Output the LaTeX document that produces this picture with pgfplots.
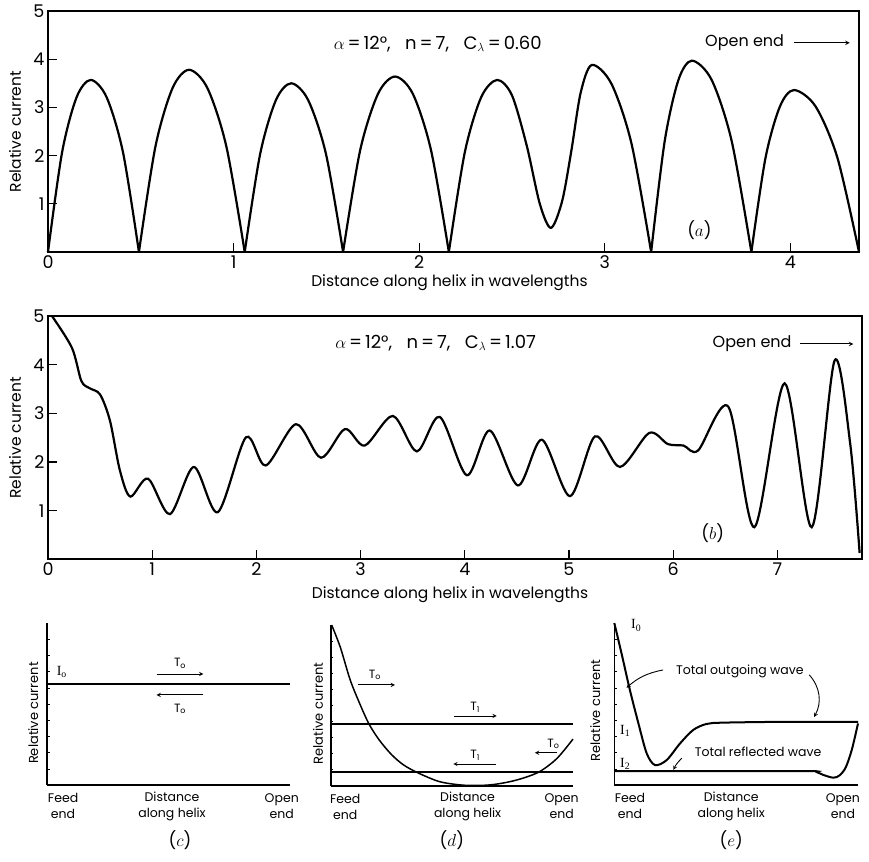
\documentclass[border=0pt]{standalone}
\usepackage{fontspec}
\setmainfont{Poppins}
\newfontfamily\serif{Liberation Serif}
\usepackage{pgfplots}
\pgfplotsset{compat=1.18}
\newcommand\lab{\fontsize{15.5}{16}\selectfont}
\newcommand\slab{\fontsize{12}{12}\selectfont}
\newcommand\ylab{\fontsize{13}{13}\selectfont}
\begin{document}
\begin{tikzpicture}
\useasboundingbox (0pt,0pt) rectangle (869pt,861pt);
\pgfplotsset{
 cur/.style={black, line width=2.2pt, solid, no marks, smooth},
 thin cur/.style={black, line width=1.5pt, solid, no marks, smooth},
 big/.style={scale only axis, anchor=south west, clip=false,
   axis line style={line width=1.6pt}, tick style={line width=1.2pt, black},
   tick align=inside, major tick length=9pt, xtick pos=bottom, ytick pos=left,
   ymin=0, ymax=5, ytick={1,2,3,4,5},
   ticklabel style={font=\fontsize{17.5}{17.5}\selectfont},
   /pgf/number format/assume math mode=true},
 small/.style={scale only axis, anchor=south west, clip=false,
   axis x line=bottom, axis y line=left, axis line style={line width=1.6pt, -},
   xmin=0, xmax=1, ymin=0, ymax=1, xtick=\empty,
   ytick={0.1,0.2,0.3,0.4,0.5,0.6,0.7,0.8,0.9}, yticklabels={},
   tick style={line width=0.5pt, black}, major tick length=2.5pt, tick align=inside},
}
% ---------------- (a)
\begin{axis}[big, at={(48pt,609pt)}, width=811pt, height=241pt,
  xmin=0, xmax=4.37, xtick={0,1,2,3,4}]
\addplot[cur] coordinates {(0,0)(0.076,2.07)(0.154,3.21)(0.23,3.57)(0.316,3.21)(0.404,2.07)(0.49,0)};
\addplot[cur] coordinates {(0.49,0)(0.579,2.19)(0.671,3.40)(0.76,3.78)(0.859,3.40)(0.961,2.19)(1.06,0)};
\addplot[cur] coordinates {(1.06,0)(1.143,2.03)(1.228,3.15)(1.31,3.5)(1.402,3.15)(1.498,2.03)(1.59,0)};
\addplot[cur] coordinates {(1.59,0)(1.682,2.11)(1.778,3.28)(1.87,3.64)(1.966,3.28)(2.064,2.11)(2.16,0)};
\addplot[cur] coordinates {(2.16,0)(2.246,2.07)(2.334,3.21)(2.42,3.57)(2.50,3.25)(2.58,2.2)(2.65,1.0)(2.71,0.5)(2.77,1.05)(2.82,2.1)(2.87,3.3)(2.93,3.88)(3.036,3.49)(3.144,2.25)(3.25,0)};
\addplot[cur] coordinates {(3.25,0)(3.323,2.30)(3.397,3.57)(3.47,3.97)(3.576,3.57)(3.684,2.30)(3.79,0)};
\addplot[cur] coordinates {(3.79,0)(3.866,1.95)(3.944,3.02)(4.02,3.36)(4.136,3.02)(4.254,1.95)(4.37,0)};
\node[font=\fontsize{18}{18}\selectfont] at (axis cs:2.1,4.32) {$\alpha$\,=\,12°,\ \ \ n\,=\,7,\ \ \ C$_\lambda$\,=\,0.60};
\node[anchor=east, font=\fontsize{16}{16}\selectfont] at (axis cs:3.985,4.34) {Open end};
\draw[-stealth, line width=1pt] (axis cs:4.02,4.34) -- (axis cs:4.32,4.34);
\node[font=\fontsize{17}{17}\selectfont] at (axis cs:3.51,0.45) {($a$)};
\node[rotate=90, font=\lab] at (axis description cs:-0.0407,0.5) {Relative current};
\node[font=\lab] at (axis description cs:0.495,-0.128) {Distance along helix in wavelengths};
\end{axis}
% ---------------- (b)
\begin{axis}[big, at={(48pt,301.7pt)}, width=813.7pt, height=243pt,
  xmin=0, xmax=7.81, xtick={0,1,2,3,4,5,6,7}]
\addplot[cur] coordinates {(0.04,5.0)(0.23,4.35)(0.32,3.67)(0.40,3.52)(0.50,3.39)(0.595,2.85)(0.69,1.83)(0.79,1.29)
 (0.96,1.66)(1.17,0.93)(1.40,1.90)(1.63,0.97)(1.90,2.51)(2.09,1.93)(2.38,2.78)(2.62,2.09)(2.85,2.68)(3.04,2.34)
 (3.31,2.95)(3.54,2.22)(3.76,2.93)(4.02,1.73)(4.24,2.65)(4.51,1.52)(4.74,2.46)(5.01,1.30)(5.25,2.53)(5.49,1.90)
 (5.77,2.60)(5.95,2.37)(6.10,2.34)(6.24,2.24)(6.53,3.14)(6.78,0.66)(7.07,3.62)(7.33,0.66)(7.55,4.09)(7.70,2.37)(7.79,0.13)};
\node[font=\fontsize{18}{18}\selectfont] at (axis cs:3.72,4.45) {$\alpha$\,=\,12°,\ \ \ n\,=\,7,\ \ \ C$_\lambda$\,=\,1.07};
\node[anchor=east, font=\fontsize{16}{16}\selectfont] at (axis cs:7.17,4.43) {Open end};
\draw[-stealth, line width=1pt] (axis cs:7.22,4.43) -- (axis cs:7.73,4.43);
\node[font=\fontsize{17}{17}\selectfont] at (axis cs:6.38,0.53) {($b$)};
\node[rotate=90, font=\lab] at (axis description cs:-0.0406,0.5) {Relative current};
\node[font=\lab] at (axis description cs:0.494,-0.147) {Distance along helix in wavelengths};
\end{axis}
% ---------------- (c)
\begin{axis}[small, at={(47.3pt,76pt)}, width=242.7pt, height=162pt]
\addplot[cur, line width=2pt] coordinates {(0,0.623)(1,0.623)};
\node[font=\serif\fontsize{14}{14}\selectfont] at (axis cs:0.06,0.70) {I\textsubscript{o}};
\draw[-stealth, line width=0.9pt] (axis cs:0.45,0.685) -- (axis cs:0.643,0.685);
\node[font=\slab] at (axis cs:0.547,0.75) {T\textsubscript{o}};
\draw[-stealth, line width=0.9pt] (axis cs:0.643,0.556) -- (axis cs:0.45,0.556);
\node[font=\slab] at (axis cs:0.547,0.47) {T\textsubscript{o}};
\node[rotate=90, font=\ylab] at (axis description cs:-0.058,0.444) {Relative current};
\node[align=center, font=\fontsize{12.5}{16}\selectfont] at (axis cs:0.065,-0.13) {Feed\\end};
\node[align=center, font=\fontsize{12.5}{16}\selectfont] at (axis cs:0.514,-0.13) {Distance\\along helix};
\node[align=center, font=\fontsize{12.5}{16}\selectfont] at (axis cs:0.966,-0.13) {Open\\end};
\node[font=\fontsize{17}{17}\selectfont] at (axis cs:0.547,-0.34) {($c$)};
\end{axis}
% ---------------- (d)
\begin{axis}[small, at={(330.7pt,75.3pt)}, width=242.3pt, height=160.7pt]
\addplot[cur, line width=2pt] coordinates {(0,0.384)(1,0.384)};
\addplot[cur, line width=2pt] coordinates {(0,0.087)(1,0.087)};
\addplot[thin cur] coordinates {(0.004,1.0)(0.04,0.86)(0.08,0.66)(0.12,0.51)(0.158,0.384)(0.20,0.285)(0.25,0.195)
 (0.30,0.13)(0.36,0.08)(0.45,0.025)(0.55,0.003)(0.65,0.004)(0.73,0.022)(0.80,0.05)(0.865,0.09)(0.934,0.17)(1.0,0.29)};
\draw[-stealth, line width=0.9pt] (axis cs:0.114,0.627) -- (axis cs:0.265,0.627);
\node[font=\slab] at (axis cs:0.183,0.69) {T\textsubscript{o}};
\draw[-stealth, line width=0.9pt] (axis cs:0.509,0.434) -- (axis cs:0.685,0.434);
\node[font=\slab] at (axis cs:0.596,0.49) {T\textsubscript{1}};
\draw[-stealth, line width=0.9pt] (axis cs:0.682,0.135) -- (axis cs:0.506,0.135);
\node[font=\slab] at (axis cs:0.596,0.19) {T\textsubscript{1}};
\draw[-stealth, line width=0.9pt] (axis cs:0.933,0.205) -- (axis cs:0.843,0.205);
\node[font=\slab] at (axis cs:0.919,0.26) {T\textsubscript{o}};
\node[rotate=90, font=\ylab] at (axis description cs:-0.052,0.45) {Relative current};
\node[align=center, font=\fontsize{12.5}{16}\selectfont] at (axis cs:0.06,-0.13) {Feed\\end};
\node[align=center, font=\fontsize{12.5}{16}\selectfont] at (axis cs:0.565,-0.13) {Distance\\along helix};
\node[align=center, font=\fontsize{12.5}{16}\selectfont] at (axis cs:0.953,-0.13) {Open\\end};
\node[font=\fontsize{17}{17}\selectfont] at (axis cs:0.5,-0.34) {($d$)};
\end{axis}
% ---------------- (e)
\begin{axis}[small, at={(614.3pt,76pt)}, width=243.7pt, height=162pt]
\addplot[cur, line width=2pt] coordinates {(0,1.0)(0.03,0.81)(0.064,0.586)(0.099,0.38)(0.133,0.195)(0.167,0.123)(0.215,0.154)
 (0.27,0.257)(0.324,0.34)(0.379,0.377)(0.45,0.385)(0.7,0.39)(1.0,0.39)};
\addplot[cur, line width=2pt] coordinates {(0,0.086)(0.4,0.086)(0.80,0.086)(0.83,0.080)(0.858,0.062)(0.899,0.045)(0.925,0.06)(0.95,0.11)(0.975,0.22)(1.0,0.38)};
\node[font=\serif\fontsize{14}{14}\selectfont] at (axis cs:0.09,0.985) {I\textsubscript{0}};
\node[font=\serif\fontsize{14}{14}\selectfont] at (axis cs:0.045,0.335) {I\textsubscript{1}};
\node[font=\serif\fontsize{14}{14}\selectfont] at (axis cs:0.045,0.13) {I\textsubscript{2}};
\node[font=\fontsize{12.5}{12.5}\selectfont] at (axis cs:0.515,0.70) {Total outgoing wave};
\draw[-stealth, line width=0.9pt] (axis cs:0.20,0.71) to[bend right=15] (axis cs:0.05,0.60);
\draw[-stealth, line width=0.9pt] (axis cs:0.80,0.68) to[bend left=35] (axis cs:0.82,0.42);
\node[font=\fontsize{12.5}{12.5}\selectfont] at (axis cs:0.59,0.205) {Total reflected wave};
\draw[-stealth, line width=0.9pt] (axis cs:0.277,0.165) to[bend right=10] (axis cs:0.242,0.093);
\node[rotate=90, font=\ylab] at (axis description cs:-0.078,0.46) {Relative current};
\node[align=center, font=\fontsize{12.5}{16}\selectfont] at (axis cs:0.064,-0.13) {Feed\\end};
\node[align=center, font=\fontsize{12.5}{16}\selectfont] at (axis cs:0.48,-0.13) {Distance\\along helix};
\node[align=center, font=\fontsize{12.5}{16}\selectfont] at (axis cs:0.938,-0.13) {Open\\end};
\node[font=\fontsize{17}{17}\selectfont] at (axis cs:0.48,-0.34) {($e$)};
\end{axis}
\end{tikzpicture}
\end{document}
